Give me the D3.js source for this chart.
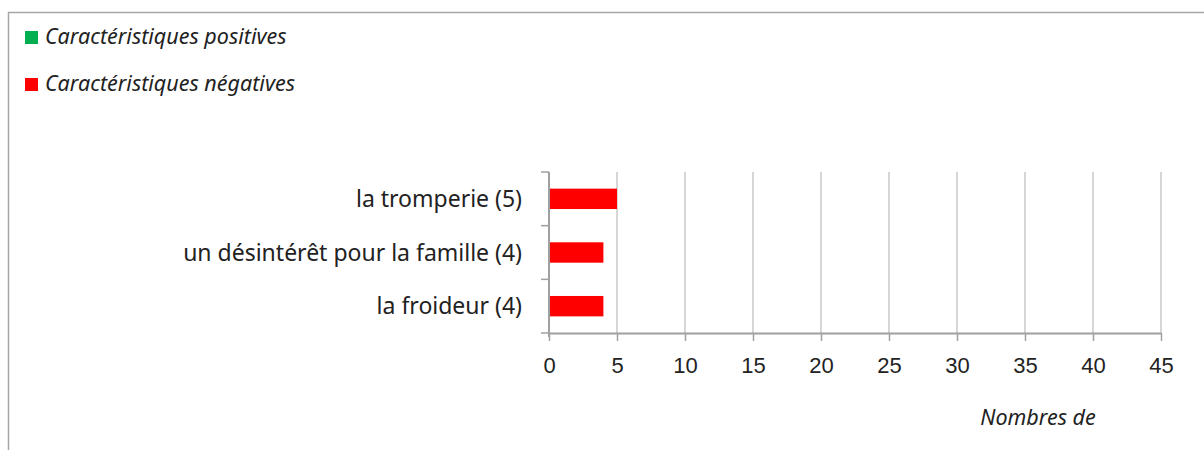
<!DOCTYPE html>
<html>
<head>
<meta charset="utf-8">
<script src="https://cdn.jsdelivr.net/npm/d3@7"></script>
<style>
  body { margin: 0; background: #fff; }
  svg { display: block; font-family: "Noto Sans", sans-serif; }
</style>
</head>
<body>
<svg id="chart" width="1204" height="450"></svg>
<script>
// data
const categories = ["la tromperie (5)", "un désintérêt pour la famille (4)", "la froideur (4)"];
const positives = [0, 0, 0];
const negatives = [5, 4, 4];
const seriesNames = ["Caractéristiques positives", "Caractéristiques négatives"];
const seriesColors = ["#00b050", "#ff0000"];
const xTicks = [0, 5, 10, 15, 20, 25, 30, 35, 40, 45];
const axisTitle = "Nombres de";

const svg = d3.select("#chart");
const margin = {left: 549, right: 43, top: 172, bottom: 117};
const width = 1204 - margin.left - margin.right,
      height = 450 - margin.top - margin.bottom;

// outer chart frame (runs off the right/bottom of the picture)
svg.append("rect")
  .attr("x", 8.5).attr("y", 12.5)
  .attr("width", 1300).attr("height", 600)
  .attr("fill", "none")
  .attr("stroke", "#a6a6a6")
  .attr("stroke-width", 1.5);

// legend
const legend = svg.append("g").attr("transform", "translate(25,31)");
seriesNames.forEach((name, i) => {
  const g = legend.append("g").attr("transform", `translate(0,${i * 47})`);
  g.append("rect").attr("width", 13).attr("height", 13).attr("fill", seriesColors[i]);
  g.append("text")
    .attr("x", 20).attr("y", 13)
    .attr("font-size", 21.5)
    .attr("font-style", "italic")
    .attr("fill", "#222")
    .text(name);
});

const x = d3.scaleLinear().domain([0, 45]).range([0, width]);
const y = d3.scaleBand().domain(categories).range([0, height]);

const plot = svg.append("g").attr("transform", `translate(${margin.left},${margin.top})`);

// vertical gridlines
plot.append("g")
  .selectAll("line")
  .data(xTicks.slice(1))
  .join("line")
  .attr("x1", d => x(d)).attr("x2", d => x(d))
  .attr("y1", 0).attr("y2", height)
  .attr("stroke", "#c9c9c9")
  .attr("stroke-width", 1.5);

// bars: stacked positive + negative
const barH = y.bandwidth() * 0.38;
const stack = categories.map((c, i) => ({cat: c, pos: positives[i], neg: negatives[i]}));

plot.append("g").selectAll("rect")
  .data(stack)
  .join("rect")
  .attr("x", x(0))
  .attr("y", d => y(d.cat) + (y.bandwidth() - barH) / 2)
  .attr("width", d => x(d.pos) - x(0))
  .attr("height", barH)
  .attr("fill", seriesColors[0]);

plot.append("g").selectAll("rect")
  .data(stack)
  .join("rect")
  .attr("x", d => x(d.pos))
  .attr("y", d => y(d.cat) + (y.bandwidth() - barH) / 2)
  .attr("width", d => x(d.pos + d.neg) - x(d.pos))
  .attr("height", barH)
  .attr("fill", seriesColors[1]);

// x axis
const xAxis = plot.append("g")
  .attr("transform", `translate(0,${height})`)
  .call(d3.axisBottom(x).tickValues(xTicks).tickSize(8).tickPadding(16).tickSizeOuter(0));
xAxis.select(".domain").attr("stroke", "#a0a0a0").attr("stroke-width", 2);
xAxis.selectAll(".tick line").attr("stroke", "#a0a0a0").attr("stroke-width", 1.5);
xAxis.selectAll(".tick text").attr("font-size", 22).attr("fill", "#222");

// y axis (ticks on band edges, like Excel)
const yAxisG = plot.append("g");
yAxisG.append("line")
  .attr("x1", 0).attr("x2", 0)
  .attr("y1", 0).attr("y2", height + 4)
  .attr("stroke", "#a0a0a0").attr("stroke-width", 2);
yAxisG.selectAll("line.edge")
  .data(categories.map(c => y(c)).concat([height]))
  .join("line")
  .attr("class", "edge")
  .attr("x1", -8).attr("x2", 0)
  .attr("y1", d => d).attr("y2", d => d)
  .attr("stroke", "#a0a0a0").attr("stroke-width", 1.5);
yAxisG.selectAll("text")
  .data(categories)
  .join("text")
  .attr("x", -27)
  .attr("y", d => y(d) + y.bandwidth() / 2)
  .attr("dy", "0.35em")
  .attr("text-anchor", "end")
  .attr("font-size", 23)
  .attr("fill", "#222")
  .text(d => d);

// axis title (truncated in the original)
svg.append("text")
  .attr("x", 1038).attr("y", 425)
  .attr("text-anchor", "middle")
  .attr("font-size", 21.5)
  .attr("font-style", "italic")
  .attr("fill", "#222")
  .text(axisTitle);
</script>
</body>
</html>
